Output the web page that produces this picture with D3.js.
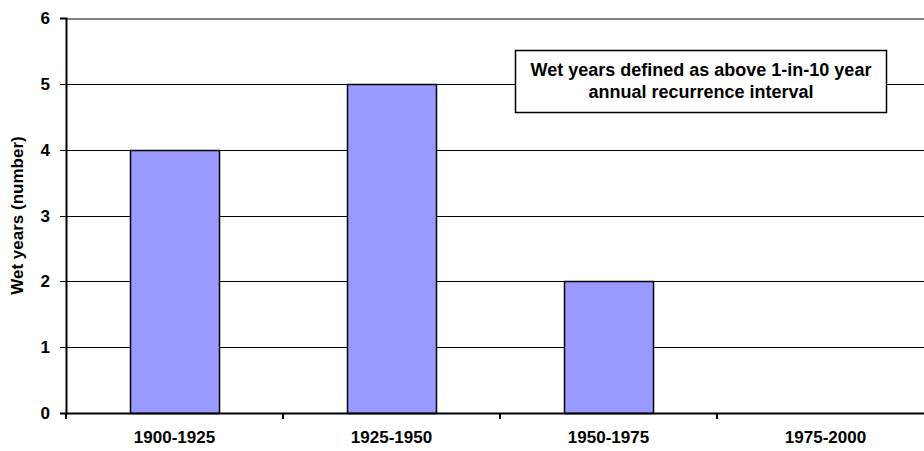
<!DOCTYPE html>
<html>
<head>
<meta charset="utf-8">
<script src="https://cdn.jsdelivr.net/npm/d3@7"></script>
<style>
  body { margin: 0; background: #fff; }
  text { font-family: Arial, "Liberation Sans", sans-serif; font-weight: bold; }
</style>
</head>
<body>
<svg id="chart" width="924" height="451"></svg>
<script>
// chart data
var periods = ["1900-1925", "1925-1950", "1950-1975", "1975-2000"];
var wetYears = [4, 5, 2, 0];
var yTicks = [0, 1, 2, 3, 4, 5, 6];
var noteLines = ["Wet years defined as above 1-in-10 year", "annual recurrence interval"];
var yTitle = "Wet years (number)";

var svg = d3.select("#chart");

// plot area (runs a little past the right edge, like the original)
var plotLeft = 66, plotRight = 934, plotTop = 18, plotBottom = 413;

var x = d3.scaleBand()
  .domain(periods)
  .range([plotLeft, plotRight])
  .paddingInner(0.59)
  .paddingOuter(0.295)
  .round(true);

var xCat = d3.scaleBand()
  .domain(periods)
  .range([plotLeft, plotRight]);

var y = d3.scaleLinear()
  .domain([0, 6])
  .range([plotBottom, plotTop])
  .interpolate(d3.interpolateRound);

// gridlines
svg.selectAll("line.grid")
  .data(yTicks.filter(function(d) { return d > 0 && d < 6; }))
  .enter()
  .append("line")
  .attr("class", "grid")
  .attr("x1", plotLeft).attr("x2", plotRight)
  .attr("y1", function(d) { return y(d) + 0.5; })
  .attr("y2", function(d) { return y(d) + 0.5; })
  .style("stroke", "#000")
  .style("stroke-width", 1);

// top border of plot area
svg.append("line")
  .attr("x1", plotLeft).attr("x2", plotRight)
  .attr("y1", y(6) + 1).attr("y2", y(6) + 1)
  .style("stroke", "#808080")
  .style("stroke-width", 2);

// bars
svg.selectAll("rect.bar")
  .data(wetYears)
  .enter()
  .append("rect")
  .attr("class", "bar")
  .attr("x", function(d, i) { return x(periods[i]) + 0.5; })
  .attr("width", x.bandwidth())
  .attr("y", function(d) { return y(d) + 0.5; })
  .attr("height", function(d) { return y(0) - y(d); })
  .attr("fill", "#9999ff")
  .style("stroke", "#000")
  .style("stroke-width", 1.5);

// y axis
var yAxis = d3.axisLeft(y)
  .tickValues(yTicks)
  .tickSize(6)
  .tickPadding(10)
  .tickFormat(d3.format("d"));

var gy = svg.append("g")
  .attr("transform", "translate(" + plotLeft + ",0)")
  .call(yAxis);
gy.select(".domain").attr("stroke-width", 2);
gy.selectAll("text").style("font-size", "17px").attr("fill", "#000");

// x axis
var xAxis = d3.axisBottom(xCat)
  .tickSize(0)
  .tickPadding(18);

var gx = svg.append("g")
  .attr("transform", "translate(0," + plotBottom + ")")
  .call(xAxis);
gx.select(".domain").attr("stroke-width", 2);
gx.selectAll("text").style("font-size", "17px").attr("fill", "#000");

// category boundary ticks
svg.selectAll("line.xtick")
  .data(periods)
  .enter()
  .append("line")
  .attr("class", "xtick")
  .attr("x1", function(d) { return xCat(d); })
  .attr("x2", function(d) { return xCat(d); })
  .attr("y1", plotBottom)
  .attr("y2", plotBottom + 6)
  .style("stroke", "#000")
  .style("stroke-width", 2);

// y title
svg.append("text")
  .attr("transform", "translate(23," + ((plotTop + plotBottom) / 2) + ") rotate(-90)")
  .attr("text-anchor", "middle")
  .style("font-size", "17px")
  .text(yTitle);

// note box
var box = svg.append("g");
box.append("rect")
  .attr("x", 515.5).attr("y", 50.5)
  .attr("width", 371).attr("height", 62)
  .attr("fill", "#fff")
  .style("stroke", "#000")
  .style("stroke-width", 1.5);
box.selectAll("text")
  .data(noteLines)
  .enter()
  .append("text")
  .attr("x", 701)
  .attr("y", function(d, i) { return 76 + i * 22; })
  .attr("text-anchor", "middle")
  .style("font-size", "18px")
  .text(function(d) { return d; });
</script>
</body>
</html>
